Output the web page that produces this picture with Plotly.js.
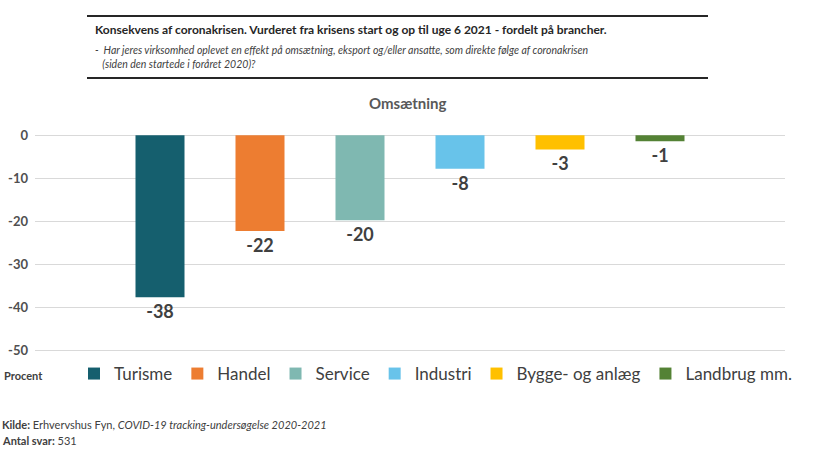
<!DOCTYPE html>
<html>
<head>
<meta charset="utf-8">
<script src="https://cdn.plot.ly/plotly-3.0.1.min.js"></script>
<style>
  html, body { margin: 0; padding: 0; background: #fff; }
  #chart { width: 814px; height: 460px; }
</style>
</head>
<body>
<div id="chart"></div>
<script>
// Omsætning: effect on turnover by sector, percent
const sectors = ['Turisme', 'Handel', 'Service', 'Industri', 'Bygge- og anlæg', 'Landbrug mm.']
const values = [-37.6, -22.2, -19.7, -7.8, -3.3, -1.4]
const labels = ['-38', '-22', '-20', '-8', '-3', '-1']
const colors = ['#155f6e', '#ed7d31', '#7fb8b1', '#68c3ea', '#ffc000', '#548235']
const yTicks = [0, -10, -20, -30, -40, -50]

const textColor = '#404040'
const font = 'Lato, "Open Sans", sans-serif'

// one trace per sector so each gets its own legend entry
var data = sectors.map(function (name, i) {
  return {
    type: 'bar',
    name: name,
    x: [i],
    y: [values[i]],
    text: [labels[i]],
    textposition: 'outside',
    textfont: { family: font, size: 18, color: textColor, weight: 'bold' },
    cliponaxis: false,
    width: 0.49,
    marker: { color: colors[i] },
    hoverinfo: 'name+y'
  }
})

// plot area is 35..785 px wide, 133..353 px high
function px (p) { return (p - 35) / 750 }
function py (p) { return (353 - p) / 220 }

var layout = {
  width: 814,
  height: 460,
  margin: { l: 35, r: 29, t: 133, b: 107 },
  paper_bgcolor: '#fff',
  plot_bgcolor: '#fff',
  font: { family: font, color: textColor },
  barmode: 'overlay',
  showlegend: true,
  legend: {
    orientation: 'h',
    x: px(74),
    y: py(374),
    xanchor: 'left',
    yanchor: 'middle',
    bgcolor: 'rgba(0,0,0,0)',
    font: { family: font, size: 17, color: textColor },
    itemwidth: 30,
    tracegroupgap: 0
  },
  xaxis: {
    range: [-1.25, 6.25],
    showticklabels: false,
    showgrid: false,
    zeroline: false,
    fixedrange: true
  },
  yaxis: {
    range: [-50.5, 0.5],
    tickvals: yTicks,
    ticktext: yTicks.map(String),
    tickfont: { family: font, size: 13, color: '#505050', weight: 'bold' },
    gridcolor: '#d9d9d9',
    gridwidth: 1,
    zeroline: false,
    ticks: '',
    ticklabelstandoff: 6,
    fixedrange: true
  },
  shapes: [
    { type: 'line', xref: 'paper', yref: 'paper', x0: px(87), x1: px(708), y0: py(16), y1: py(16), line: { color: '#262626', width: 2 } },
    { type: 'line', xref: 'paper', yref: 'paper', x0: px(87), x1: px(708), y0: py(78), y1: py(78), line: { color: '#262626', width: 2 } }
  ],
  annotations: [
    {
      xref: 'paper', yref: 'paper', x: px(93), y: py(30), xanchor: 'left', yanchor: 'middle',
      showarrow: false,
      text: '<b>Konsekvens af coronakrisen. Vurderet fra krisens start og op til uge 6 2021 - fordelt på brancher.</b>',
      font: { family: font, size: 12, color: '#262626' }
    },
    {
      xref: 'paper', yref: 'paper', x: px(93), y: py(57), xanchor: 'left', yanchor: 'middle', align: 'left',
      showarrow: false,
      text: '<i>-  Har jeres virksomhed oplevet en effekt på omsætning, eksport og/eller ansatte, som direkte følge af coronakrisen<br>   (siden den startede i foråret 2020)?</i>',
      font: { family: font, size: 10.5, color: textColor }
    },
    {
      xref: 'paper', yref: 'paper', x: px(408), y: py(103), xanchor: 'center', yanchor: 'middle',
      showarrow: false,
      text: '<b>Omsætning</b>',
      font: { family: font, size: 15, color: '#595959' }
    },
    {
      xref: 'paper', yref: 'paper', x: px(2), y: py(375), xanchor: 'left', yanchor: 'middle',
      showarrow: false,
      text: '<b>Procent</b>',
      font: { family: font, size: 11, color: textColor }
    },
    {
      xref: 'paper', yref: 'paper', x: px(0), y: py(424), xanchor: 'left', yanchor: 'middle',
      showarrow: false,
      text: '<b>Kilde:</b> Erhvervshus Fyn, <i>COVID-19 tracking-undersøgelse 2020-2021</i>',
      font: { family: font, size: 11, color: textColor }
    },
    {
      xref: 'paper', yref: 'paper', x: px(0), y: py(440), xanchor: 'left', yanchor: 'middle',
      showarrow: false,
      text: '<b>Antal svar:</b> 531',
      font: { family: font, size: 11, color: textColor }
    }
  ]
}

Plotly.newPlot('chart', data, layout, { displayModeBar: false, staticPlot: true })
</script>
</body>
</html>
